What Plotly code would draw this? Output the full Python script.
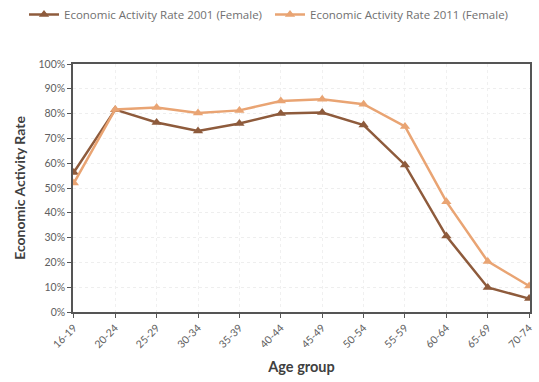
import plotly.graph_objects as go

age_groups = ["16-19", "20-24", "25-29", "30-34", "35-39", "40-44", "45-49",
              "50-54", "55-59", "60-64", "65-69", "70-74"]
rate_2001 = [56.3, 81.6, 76.4, 73.0, 76.0, 80.0, 80.4, 75.4, 59.3, 30.6, 9.9, 5.4]
rate_2011 = [52.0, 81.7, 82.5, 80.2, 81.3, 85.1, 85.8, 83.8, 74.8, 44.5, 20.4, 10.5]
series_names = ["Economic Activity Rate 2001 (Female)", "Economic Activity Rate 2011 (Female)"]
y_ticks = [0, 10, 20, 30, 40, 50, 60, 70, 80, 90, 100]
y_tick_labels = [f"{v}%" for v in y_ticks]

colors = ["#8E5B3C", "#E9A473"]
legend_ids = ["legend", "legend2"]

fig = go.Figure()
for name, vals, c, lg in zip(series_names, [rate_2001, rate_2011], colors, legend_ids):
    fig.add_trace(go.Scatter(
        x=age_groups, y=vals, name=name, mode="lines+markers",
        line=dict(color=c, width=2.5),
        marker=dict(symbol="triangle-up", size=9, color=c),
        legend=lg,
    ))

legend_style = dict(orientation="h", xanchor="left", xref="container",
                    y=1.0, yanchor="top", yref="container",
                    font=dict(family="Open Sans, sans-serif", size=11.5, color="#707070"),
                    itemwidth=30, bgcolor="rgba(0,0,0,0)")

fig.update_layout(
    width=539, height=382,
    margin=dict(l=73, r=5, t=64, b=70),
    paper_bgcolor="white", plot_bgcolor="white",
    font=dict(family="Lato, Open Sans, sans-serif", color="#595959", size=10.5),
    legend=dict(x=24 / 539, **legend_style),
    legend2=dict(x=270 / 539, **legend_style),
    showlegend=True,
)
fig.update_xaxes(
    type="category", range=[-0.02, 11.02], tickangle=-45,
    showline=True, linecolor="#555555", linewidth=1.5, mirror=True,
    ticks="outside", ticklen=4, tickcolor="#555555",
    showgrid=True, gridcolor="#f0f0f0", griddash="dot",
    tickfont=dict(size=10.5, color="#606060"),
    title=dict(text="<b>Age group</b>", font=dict(size=14.5, color="#404040"), standoff=13),
)
fig.update_yaxes(
    range=[0, 100], tickvals=y_ticks, ticktext=y_tick_labels,
    showline=True, linecolor="#555555", linewidth=1.5, mirror=True,
    ticks="outside", ticklen=4, tickcolor="#555555",
    showgrid=True, gridcolor="#eeeeee", griddash="dot",
    tickfont=dict(size=10.5, color="#606060"),
    title=dict(text="<b>Economic Activity Rate</b>", font=dict(size=14, color="#404040"), standoff=10),
    zeroline=False,
)

fig.write_html("out.html")
